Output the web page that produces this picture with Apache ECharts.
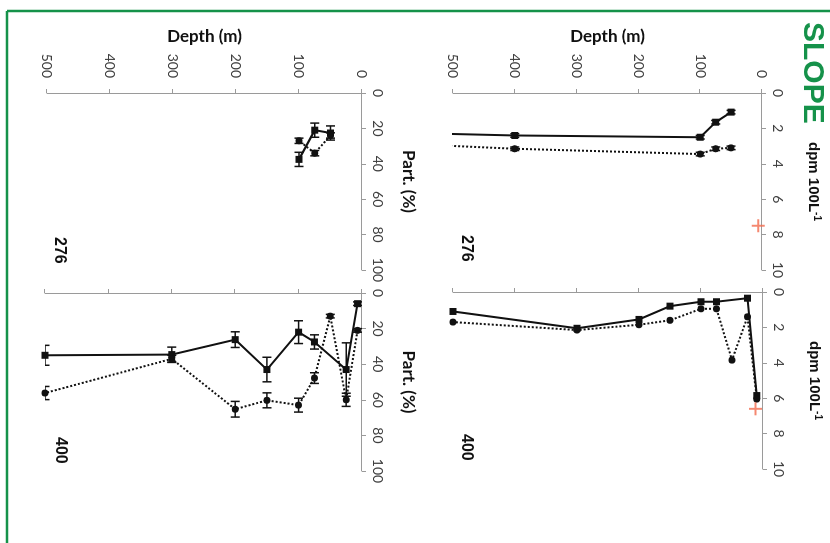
<!DOCTYPE html>
<html>
<head>
<meta charset="utf-8">
<script src="https://cdn.jsdelivr.net/npm/echarts@6/dist/echarts.min.js"></script>
<style>
  html, body { margin: 0; padding: 0; overflow: hidden; background: #fff; }
  /* the figure is drawn upright (543 x 830) and turned a quarter clockwise */
  #wrap { position: absolute; left: 0; top: 0; width: 543px; height: 830px;
          transform-origin: 0 0; transform: translate(830px, 0) rotate(90deg); }
  #chart { width: 543px; height: 830px; }
</style>
</head>
<body>
<div id="wrap"><div id="chart"></div></div>
<script>
// station 276, dpm 100L-1
const depth276 = [50, 75, 100, 400, 1000];
const dpm276Solid = [1.08, 1.65, 2.5, 2.4, 1.9];
const dpm276Dotted = [3.1, 3.15, 3.45, 3.15, 2.2];
const dpm276Err = [0.1, 0.1, 0.1, 0.1, 0.1];
const ref276 = [[7.5, 6]];

// station 400, dpm 100L-1
const depth400Solid = [10, 25, 75, 100, 150, 200, 300, 500];
const dpm400Solid = [5.85, 0.35, 0.55, 0.55, 0.8, 1.55, 2.05, 1.1];
const depth400Dotted = [10, 25, 50, 75, 100, 150, 200, 300, 500];
const dpm400Dotted = [6.05, 1.4, 3.85, 0.95, 0.95, 1.6, 1.85, 2.15, 1.7];
const ref400 = [[6.6, 12]];

// station 276, Part. (%)
const partDepth276 = [50, 75, 100];
const part276Solid = [22.6, 21, 37.5];
const part276SolidErr = [4, 4, 4];
const part276Dotted = [24, 34, 27];
const part276DottedErr = [1.5, 1.5, 1.5];

// station 400, Part. (%)
const partDepth400Solid = [7, 25, 75, 100, 150, 200, 300, 500];
const part400Solid = [6, 43, 27.5, 22, 43, 26.2, 34.6, 35];
const part400SolidErr = [1, 15, 4, 6.4, 6.9, 4.4, 4.2, 5.6];
const partDepth400Dotted = [7, 25, 50, 75, 100, 150, 200, 300, 500];
const part400Dotted = [21, 60, 13, 47.8, 63, 60.3, 65.3, 37, 56.2];
const part400DottedErr = [1, 3.7, 1, 3, 3.9, 4.2, 4.4, 2, 3.7];

const depthTicks = { min: 0, max: 500, interval: 100 };
const dpmTicks = { min: 0, max: 10, interval: 2 };
const partTicks = { min: 0, max: 100, interval: 20 };

const green = '#15924a';
const ink = '#111';
const axisGray = '#9a9a9a';
const numFont = 'Lato';

const chart = echarts.init(document.getElementById('chart'));

const grids = [
  { left: 93, top: 68, width: 177, height: 309 },
  { left: 292, top: 67, width: 177, height: 310 },
  { left: 93, top: 468, width: 177, height: 315 },
  { left: 293, top: 468, width: 178, height: 317 }
].map(g => Object.assign({ outerBoundsMode: 'none', containLabel: false }, g));

const dpmName = '{a|dpm 100L}{b|-1}';
const dpmNameStyle = {
  rich: {
    a: { fontFamily: 'Liberation Sans', fontWeight: 'bold', fontSize: 15, color: ink, lineHeight: 18 },
    b: { fontFamily: 'Liberation Sans', fontWeight: 'bold', fontSize: 10, color: ink, lineHeight: 10, verticalAlign: 'top' }
  }
};

function xAxis(i, ticks, name, nameGap, nameStyle) {
  return {
    gridIndex: i, type: 'value', position: 'top',
    min: ticks.min, max: ticks.max, interval: ticks.interval,
    name: name, nameLocation: 'middle', nameGap: nameGap, nameTextStyle: nameStyle,
    nameMoveOverlap: false,
    splitLine: { show: false },
    axisLine: { show: true, onZero: false, lineStyle: { color: axisGray, width: 1 } },
    axisTick: { show: true, length: 4, lineStyle: { color: axisGray } },
    axisLabel: { margin: 9, color: '#404040', fontSize: 14, fontFamily: numFont, hideOverlap: false }
  };
}

// only the left column carries depth labels and the axis name
function yAxis(i, labelled) {
  return {
    gridIndex: i, type: 'value', position: 'left', inverse: true,
    min: depthTicks.min, max: depthTicks.max, interval: depthTicks.interval,
    name: labelled ? 'Depth (m)' : '', nameLocation: 'middle', nameGap: 46, nameMoveOverlap: false,
    nameTextStyle: { fontFamily: 'Lato', fontWeight: 'bold', fontSize: 17, color: ink, lineHeight: 20 },
    splitLine: { show: false },
    axisLine: { show: true, onZero: false, lineStyle: { color: axisGray, width: 1 } },
    axisTick: { show: true, length: 4, lineStyle: { color: axisGray } },
    axisLabel: { show: labelled, margin: 15, color: '#404040', fontSize: 14, fontFamily: numFont, hideOverlap: false }
  };
}

const partNameStyle = { fontFamily: 'Lato', fontWeight: 'bold', fontSize: 17, color: ink, lineHeight: 20 };

function profile(i, depths, vals, dotted) {
  return {
    type: 'line', xAxisIndex: i, yAxisIndex: i,
    data: depths.map((d, k) => [vals[k], d]),
    symbol: dotted ? 'circle' : 'rect', symbolSize: 7,
    lineStyle: { color: ink, width: 2, type: dotted ? 'dotted' : 'solid' },
    itemStyle: { color: ink },
    clip: true, z: 4, silent: true, animation: false
  };
}

function errorBars(i, depths, vals, errs) {
  return {
    type: 'custom', xAxisIndex: i, yAxisIndex: i,
    data: depths.map((d, k) => [vals[k], d, errs[k]]),
    encode: { x: 0, y: 1 },
    clip: true, z: 3, silent: true, animation: false,
    renderItem(params, api) {
      const v = api.value(0), d = api.value(1), e = api.value(2);
      const a = api.coord([v - e, d]);
      const b = api.coord([v + e, d]);
      const cap = 4.5;
      const st = { stroke: ink, lineWidth: 1.5 };
      return {
        type: 'group',
        children: [
          { type: 'line', shape: { x1: a[0], y1: a[1], x2: b[0], y2: b[1] }, style: st },
          { type: 'line', shape: { x1: a[0], y1: a[1] - cap, x2: a[0], y2: a[1] + cap }, style: st },
          { type: 'line', shape: { x1: b[0], y1: b[1] - cap, x2: b[0], y2: b[1] + cap }, style: st }
        ]
      };
    }
  };
}

const plus = 'path://M8.5,0h3v8.5h8.5v3h-8.5v8.5h-3v-8.5h-8.5v-3h8.5z';
function refMark(i, pts) {
  return {
    type: 'scatter', xAxisIndex: i, yAxisIndex: i, data: pts,
    symbol: plus, symbolSize: 13, itemStyle: { color: '#f36a4c' },
    clip: false, z: 6, silent: true, animation: false
  };
}

function panelLabel(text, x, y) {
  return {
    type: 'text', x: x, y: y, z: 10,
    style: { text: text, font: 'bold 16px "Liberation Sans"', fill: ink, align: 'left', verticalAlign: 'middle' }
  };
}

chart.setOption({
  animation: false,
  grid: grids,
  xAxis: [
    xAxis(0, dpmTicks, dpmName, 42, dpmNameStyle),
    xAxis(1, dpmTicks, dpmName, 42, dpmNameStyle),
    xAxis(2, partTicks, 'Part. (%)', 36, partNameStyle),
    xAxis(3, partTicks, 'Part. (%)', 36, partNameStyle)
  ],
  yAxis: [yAxis(0, true), yAxis(1, false), yAxis(2, true), yAxis(3, false)],
  graphic: [
    { type: 'line', shape: { x1: 11, y1: 0, x2: 11, y2: 823 }, style: { stroke: green, lineWidth: 2.5 } },
    { type: 'line', shape: { x1: 11, y1: 823, x2: 543, y2: 823 }, style: { stroke: green, lineWidth: 2.5 } },
    {
      type: 'text', x: 22, y: 18, z: 10,
      style: { text: 'SLOPE', font: 'bold 30px "Liberation Sans"', fill: green, align: 'left', verticalAlign: 'middle' }
    },
    panelLabel('276', 235, 364),
    panelLabel('400', 434, 364),
    panelLabel('276', 237, 771),
    panelLabel('400', 437, 770)
  ],
  series: [
    errorBars(0, depth276, dpm276Solid, dpm276Err),
    errorBars(0, depth276, dpm276Dotted, dpm276Err),
    profile(0, depth276, dpm276Solid, false),
    profile(0, depth276, dpm276Dotted, true),
    refMark(0, ref276),

    profile(1, depth400Solid, dpm400Solid, false),
    profile(1, depth400Dotted, dpm400Dotted, true),
    refMark(1, ref400),

    errorBars(2, partDepth276, part276Solid, part276SolidErr),
    errorBars(2, partDepth276, part276Dotted, part276DottedErr),
    profile(2, partDepth276, part276Solid, false),
    profile(2, partDepth276, part276Dotted, true),

    errorBars(3, partDepth400Solid, part400Solid, part400SolidErr),
    errorBars(3, partDepth400Dotted, part400Dotted, part400DottedErr),
    profile(3, partDepth400Solid, part400Solid, false),
    profile(3, partDepth400Dotted, part400Dotted, true)
  ]
});
</script>
</body>
</html>
